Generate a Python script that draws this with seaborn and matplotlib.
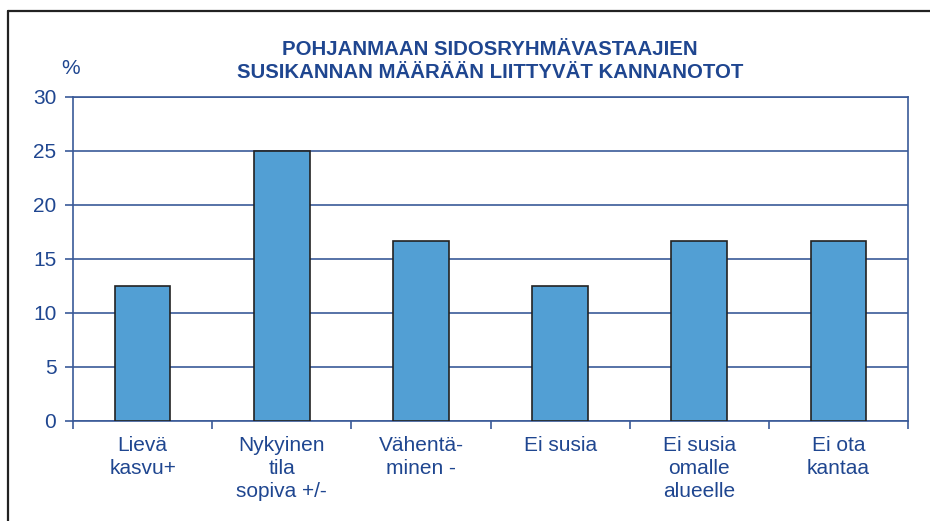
import numpy as np
import pandas as pd
import matplotlib
matplotlib.use("Agg")
import matplotlib.pyplot as plt
import seaborn as sns

# data
categories = ["Lievä\nkasvu+", "Nykyinen\ntila\nsopiva +/-", "Vähentä-\nminen -",
              "Ei susia", "Ei susia\nomalle\nalueelle", "Ei ota\nkantaa"]
percent = [12.5, 25.0, 16.7, 12.5, 16.7, 16.7]
y_ticks = [0, 5, 10, 15, 20, 25, 30]

df = pd.DataFrame({"kannanotto": categories, "osuus": percent})

navy = "#1F4690"
line_col = "#3A5A98"
bar_col = "#529FD4"

sns.set_theme(style="white")
plt.rcParams["font.family"] = ["Liberation Sans", "DejaVu Sans"]

fig = plt.figure(figsize=(9.3, 5.21), dpi=100)
ax = fig.add_axes([73 / 930, 1 - 421 / 521, (908 - 73) / 930, (421 - 97) / 521])

sns.barplot(data=df, x="kannanotto", y="osuus", color=bar_col, width=0.4,
            edgecolor="#222222", linewidth=1.2, saturation=1, ax=ax, zorder=3)

ax.set_ylim(0, 30)
ax.set_xlim(-0.5, len(categories) - 0.5)
ax.set_yticks(y_ticks)
ax.set_yticklabels([str(t) for t in y_ticks], fontsize=15, color=navy)
ax.yaxis.grid(True, color=line_col, linewidth=1.2, zorder=0)
ax.set_xlabel("")
ax.set_ylabel("")

# x ticks at category boundaries, labels centred
ax.set_xticks(np.arange(len(categories) + 1) - 0.5)
ax.set_xticklabels([])
ax.set_xticks(np.arange(len(categories)), minor=True)
ax.set_xticklabels(categories, minor=True, fontsize=15, color=navy, linespacing=1.27)
ax.tick_params(axis="x", which="major", direction="out", length=6, width=1.2,
               color=line_col, bottom=True)
ax.tick_params(axis="x", which="minor", length=0, pad=11)
ax.tick_params(axis="y", direction="out", length=6, width=1.2, color=line_col,
               left=True, pad=6)
for side in ax.spines.values():
    side.set_color(line_col)
    side.set_linewidth(1.2)

fig.text(490 / 930, 1 - 61 / 521,
         "POHJANMAAN SIDOSRYHMÄVASTAAJIEN\nSUSIKANNAN MÄÄRÄÄN LIITTYVÄT KANNANOTOT",
         ha="center", va="center", fontsize=14.7, fontweight="bold", color=navy,
         linespacing=1.3)
fig.text(71 / 930, 1 - 69 / 521, "%", ha="center", va="center", fontsize=15, color=navy)

# outer frame (only left and top edges fall inside the picture)
fig.add_artist(plt.Line2D([8 / 930, 8 / 930], [0, 1 - 11 / 521], color="#222222",
                          linewidth=1.6, transform=fig.transFigure))
fig.add_artist(plt.Line2D([8 / 930, 1], [1 - 11 / 521, 1 - 11 / 521], color="#222222",
                          linewidth=1.6, transform=fig.transFigure))

fig.savefig("out.png", dpi=100)
